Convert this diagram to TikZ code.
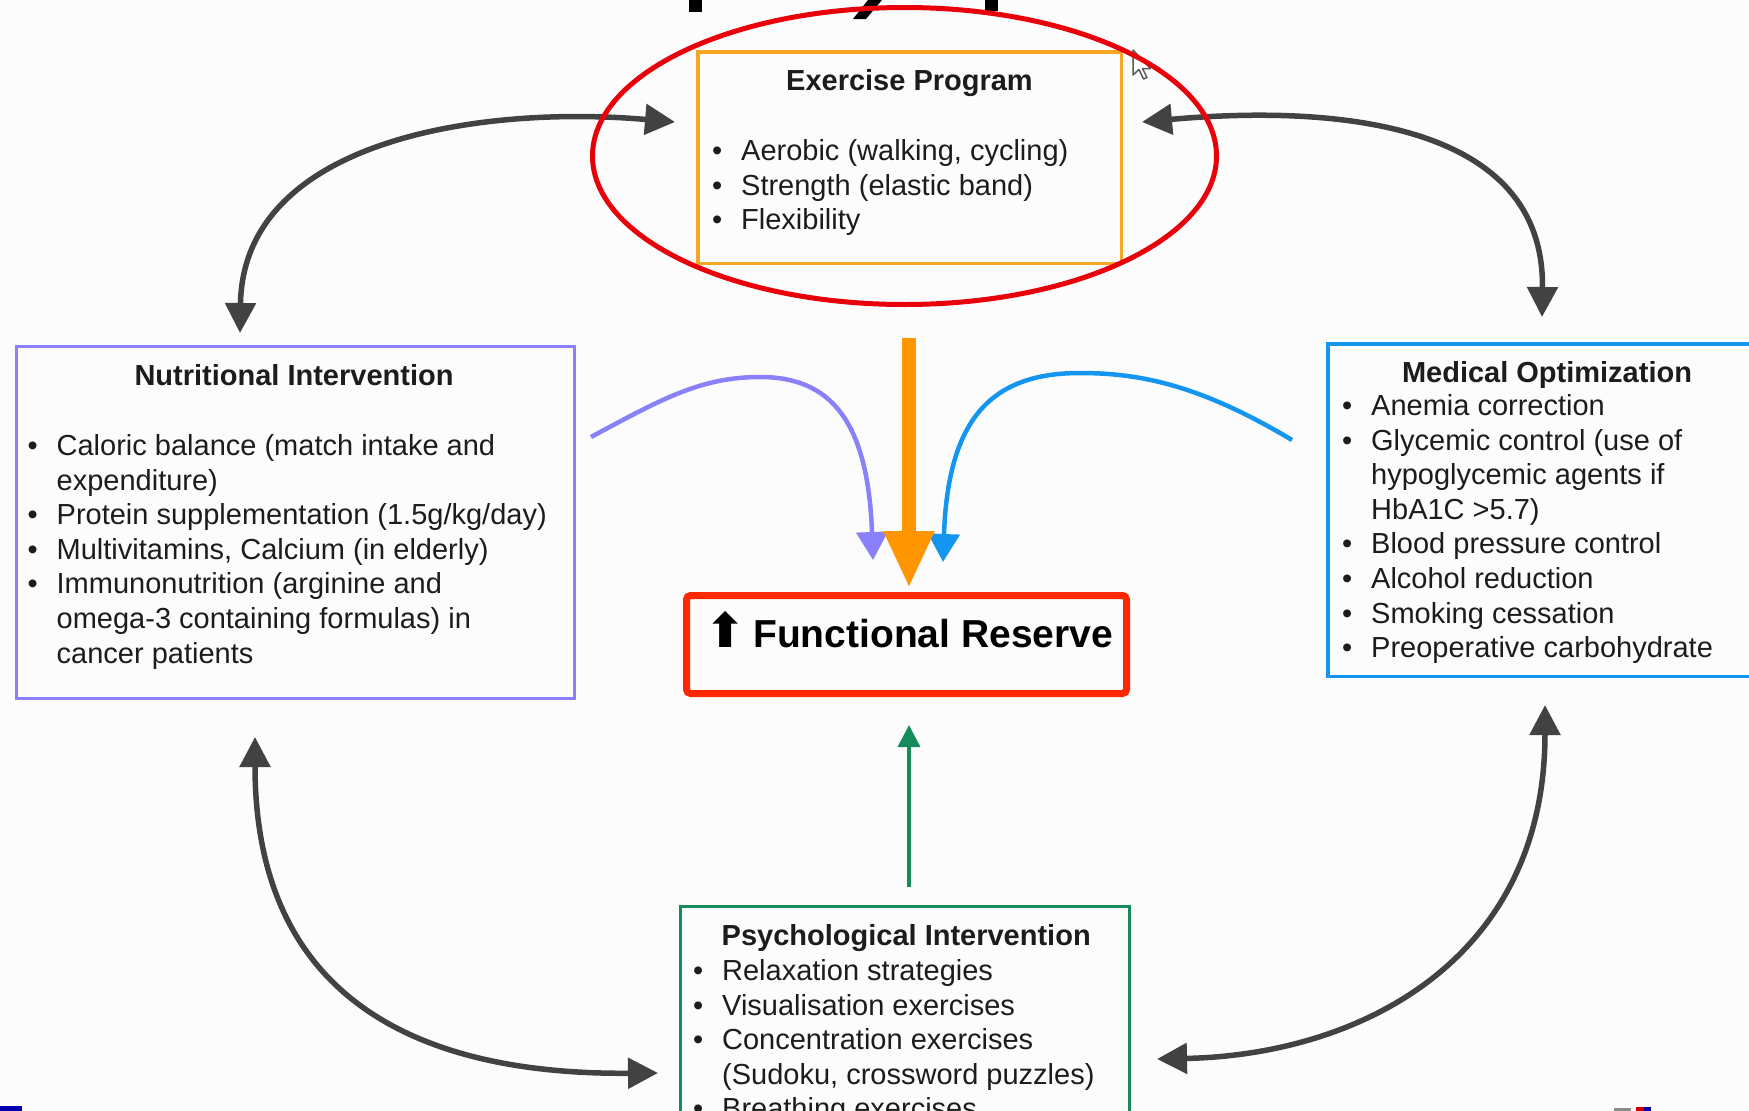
\documentclass[tikz,border=0pt]{standalone}
\usepackage{fontspec}
\setmainfont{Liberation Sans}
\newfontfamily\dejavu{DejaVu Sans}
\usetikzlibrary{arrows.meta}

\definecolor{exor}{RGB}{245,166,35}
\definecolor{arror}{RGB}{255,149,0}
\definecolor{nutpu}{RGB}{137,128,250}
\definecolor{medbl}{RGB}{20,150,240}
\definecolor{psygr}{RGB}{22,140,92}
\definecolor{frred}{RGB}{255,40,0}
\definecolor{ellred}{RGB}{232,0,10}
\definecolor{darkgr}{RGB}{66,66,66}
\definecolor{txt}{RGB}{28,28,28}
\definecolor{bg}{RGB}{252,252,252}

\newcommand\itm[1]{\par\hangindent=29pt\hangafter=1\noindent\makebox[29pt][l]{•}#1}
\newcommand\blist[1]{\parbox[t]{700pt}{\fontsize{29}{34.6}\selectfont\raggedright #1}}

\tikzset{
  box/.style={rectangle, inner sep=0pt, outer sep=0pt},
  ttl/.style={inner sep=0pt, text=txt, font=\fontsize{29}{34.6}\selectfont\bfseries},
  lst/.style={inner sep=0pt, text=txt, anchor=base west},
  garrow/.style={draw=darkgr, line width=5.5pt,
    arrows={Triangle[width=30pt,length=30pt]-Triangle[width=30pt,length=30pt]}},
  carrow/.style={line width=4.5pt, arrows={-Triangle[width=31pt,length=28pt]}},
}

\begin{document}
\begin{tikzpicture}[x=1pt,y=-1pt]
\useasboundingbox (0,0) rectangle (1749,1111);
\clip (0,0) rectangle (1749,1111);
\fill[bg] (0,0) rectangle (1749,1111);

% title fragments (cut off at top)
\fill[black] (689,0) rectangle (702,12);
\fill[black] (868,0) -- (882,0) -- (866,19) -- (853,19) -- cycle;
\fill[black] (985,0) rectangle (998,11);

% boxes
\node[box, draw=exor, line width=3.5pt, minimum width=423.5pt, minimum height=211.5pt] (exbox) at (909.5,157.5) {};
\node[box, draw=nutpu, line width=3pt, minimum width=558pt, minimum height=352pt] (nutbox) at (295.5,522.5) {};
\node[box, draw=medbl, line width=3.5pt, minimum width=438.5pt, minimum height=332.5pt] (medbox) at (1547,510) {};
\node[box, draw=frred, line width=7pt, rounded corners=4pt, minimum width=440pt, minimum height=98pt] (frbox) at (906.5,644.5) {};
\node[box, draw=psygr, line width=3pt, minimum width=449pt, minimum height=252pt] (psybox) at (905,1032.5) {};

% titles
\node[ttl, anchor=base] (extitle) at (909.5,90) {Exercise Program};
\node[ttl, anchor=base] (nuttitle) at (294,385.5) {Nutritional Intervention};
\node[ttl, anchor=base] (medtitle) at (1547,382) {Medical Optimization};
\node[ttl, anchor=base west] (psytitle) at (721.5,945.5) {Psychological Intervention};

% lists
\node[lst] (exlist) at (712,160.5) {\blist{%
  \itm{Aerobic (walking, cycling)}%
  \itm{Strength (elastic band)}%
  \itm{Flexibility}}};
\node[lst] (nutlist) at (27.5,455.5) {\blist{%
  \itm{Caloric balance (match intake and\newline expenditure)}%
  \itm{Protein supplementation (1.5g/kg/day)}%
  \itm{Multivitamins, Calcium (in elderly)}%
  \itm{Immunonutrition (arginine and\newline omega-3 containing formulas) in\newline cancer patients}}};
\node[lst] (medlist) at (1342,415.5) {\blist{%
  \itm{Anemia correction}%
  \itm{Glycemic control (use of\newline hypoglycemic agents if\newline HbA1C >5.7)}%
  \itm{Blood pressure control}%
  \itm{Alcohol reduction}%
  \itm{Smoking cessation}%
  \itm{Preoperative carbohydrate}}};
\node[lst] (psylist) at (693,980.5) {\blist{%
  \itm{Relaxation strategies}%
  \itm{Visualisation exercises}%
  \itm{Concentration exercises\newline (Sudoku, crossword puzzles)}%
  \itm{Breathing exercises}}};

% functional reserve label
\node[inner sep=0pt, anchor=base west, text=black, font=\fontsize{39}{41}\selectfont\bfseries] (frtext) at (705,647)
  {\makebox[48pt][l]{\dejavu\fontsize{48}{50}\selectfont ⬆}Functional Reserve};

% connector end points
\coordinate (nutT) at (240,333);
\coordinate (exL) at (675,122);
\coordinate (exR) at (1142,122);
\coordinate (medT) at (1542,317);
\coordinate (nutB) at (255,737);
\coordinate (psyL) at (658,1073);
\coordinate (medB) at (1545,705);
\coordinate (psyR) at (1157,1059);
\coordinate (nutS) at (591,437);
\coordinate (medS) at (1292,440);
\coordinate (exS) at (909,338);
\coordinate (frP) at (873,560);
\coordinate (frB) at (943,562);
\coordinate (frO) at (909,588);
\coordinate (psyN) at (909,887);
\coordinate (frS) at (909,725);

% grey double arrows
\draw[garrow] (nutT) .. controls (243,140) and (480,105) .. (exL);
\draw[garrow] (exR) .. controls (1330,105) and (1545,120) .. (medT);
\draw[garrow] (nutB) .. controls (255,1000) and (420,1075) .. (psyL);
\draw[garrow] (medB) .. controls (1545,960) and (1360,1055) .. (psyR);

% coloured arrows into functional reserve
\draw[carrow, color=nutpu] (nutS) .. controls (660,400) and (700,377) .. (760,377)
   .. controls (830,377) and (868,420) .. (frP);
\draw[carrow, color=medbl] (medS) .. controls (1200,385) and (1140,373) .. (1080,373)
   .. controls (990,373) and (948,420) .. (frB);
\draw[line width=14pt, color=arror, arrows={-Triangle[width=47pt,length=57pt]}] (exS) -- (frO);
\draw[line width=3.5pt, color=psygr, arrows={-Triangle[width=22pt,length=22pt]}] (psyN) -- (frS);

% mouse pointer
\draw[line width=1.5pt, draw=black!65, fill=white, line join=round]
  (1133,50) -- ++(0,25) -- ++(6,-5.5) -- ++(4.5,9.5) -- ++(3.5,-1.5) -- ++(-4.5,-9) -- ++(8,0) -- cycle;

% red highlight ellipse
\draw[ellred, line width=5pt] (904.5,156) ellipse [x radius=312, y radius=148.5];

% footer fragments
\fill[blue!70!black] (0,1106) rectangle (22,1111);
\fill[black!45] (1614,1108) rectangle (1631,1111);
\fill[red!80!black] (1636,1107) rectangle (1644,1111);
\fill[blue!70!black] (1644,1107) rectangle (1651,1111);
\end{tikzpicture}
\end{document}
